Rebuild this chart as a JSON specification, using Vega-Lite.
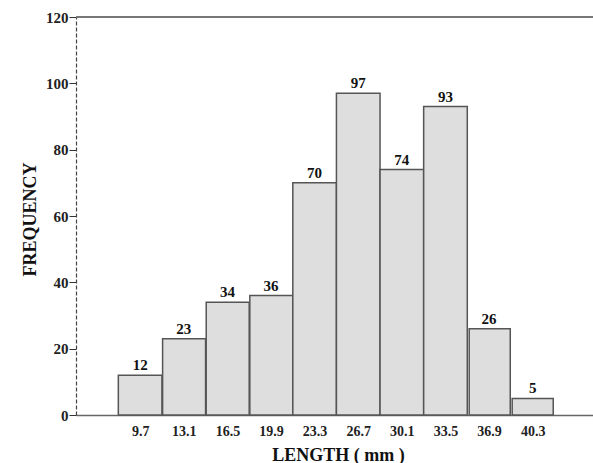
{
  "$schema": "https://vega.github.io/schema/vega-lite/v6.json",
  "width": 517,
  "height": 398,
  "autosize": "none",
  "padding": {"left": 76, "top": 17, "right": 0, "bottom": 48},
  "background": "white",
  "config": {
    "view": {"stroke": null},
    "font": "Liberation Serif",
    "axis": {"labelFont": "Liberation Serif", "titleFont": "Liberation Serif", "labelColor": "#222", "titleColor": "#111", "grid": false}
  },
  "data": {
    "values": [
      {"length": 9.7, "lo": 8.0, "hi": 11.4, "freq": 12},
      {"length": 13.1, "lo": 11.45, "hi": 14.8, "freq": 23},
      {"length": 16.5, "lo": 14.85, "hi": 18.2, "freq": 34},
      {"length": 19.9, "lo": 18.25, "hi": 21.6, "freq": 36},
      {"length": 23.3, "lo": 21.6, "hi": 25.0, "freq": 70},
      {"length": 26.7, "lo": 25.0, "hi": 28.4, "freq": 97},
      {"length": 30.1, "lo": 28.4, "hi": 31.8, "freq": 74},
      {"length": 33.5, "lo": 31.8, "hi": 35.2, "freq": 93},
      {"length": 36.9, "lo": 35.35, "hi": 38.55, "freq": 26},
      {"length": 40.3, "lo": 38.7, "hi": 41.9, "freq": 5}
    ]
  },
  "layer": [
    {
      "mark": {"type": "bar", "fill": "#dedede", "stroke": "#555", "strokeWidth": 1.5},
      "encoding": {
        "x": {
          "field": "lo", "type": "quantitative",
          "scale": {"domain": [4.7, 45], "nice": false, "zero": false},
          "axis": {
            "values": [9.7, 13.1, 16.5, 19.9, 23.3, 26.7, 30.1, 33.5, 36.9, 40.3],
            "title": "LENGTH ( mm )",
            "titleFontSize": 18, "titleFontWeight": "bold",
            "titleBaseline": "alphabetic",
            "titleX": 262, "titleY": 45,
            "labelFontSize": 14, "labelFontWeight": "bold",
            "labelPadding": 9,
            "ticks": false,
            "domainColor": "#666", "domainWidth": 1.5,
            "format": ".1f"
          }
        },
        "x2": {"field": "hi"},
        "y": {
          "field": "freq", "type": "quantitative",
          "scale": {"domain": [0, 120], "nice": false},
          "axis": {
            "values": [0, 20, 40, 60, 80, 100, 120],
            "title": "FREQUENCY",
            "titleFontSize": 18, "titleFontWeight": "bold",
            "titleBaseline": "alphabetic",
            "titleX": -41, "titleY": 202,
            "labelFontSize": 15, "labelFontWeight": "bold",
            "tickSize": 7, "tickColor": "#333", "labelPadding": 1,
            "domainColor": "#444", "domainDash": [4, 2], "domainWidth": 1.2
          }
        },
        "y2": {"datum": 0}
      }
    },
    {
      "mark": {"type": "text", "baseline": "alphabetic", "dy": -5, "fontSize": 15, "fontWeight": "bold", "color": "#111"},
      "encoding": {
        "x": {"field": "length", "type": "quantitative"},
        "y": {"field": "freq", "type": "quantitative"},
        "text": {"field": "freq", "type": "quantitative"}
      }
    },
    {
      "mark": {"type": "rule", "color": "#777", "strokeWidth": 1.5},
      "encoding": {"y": {"datum": 120}}
    }
  ]
}
